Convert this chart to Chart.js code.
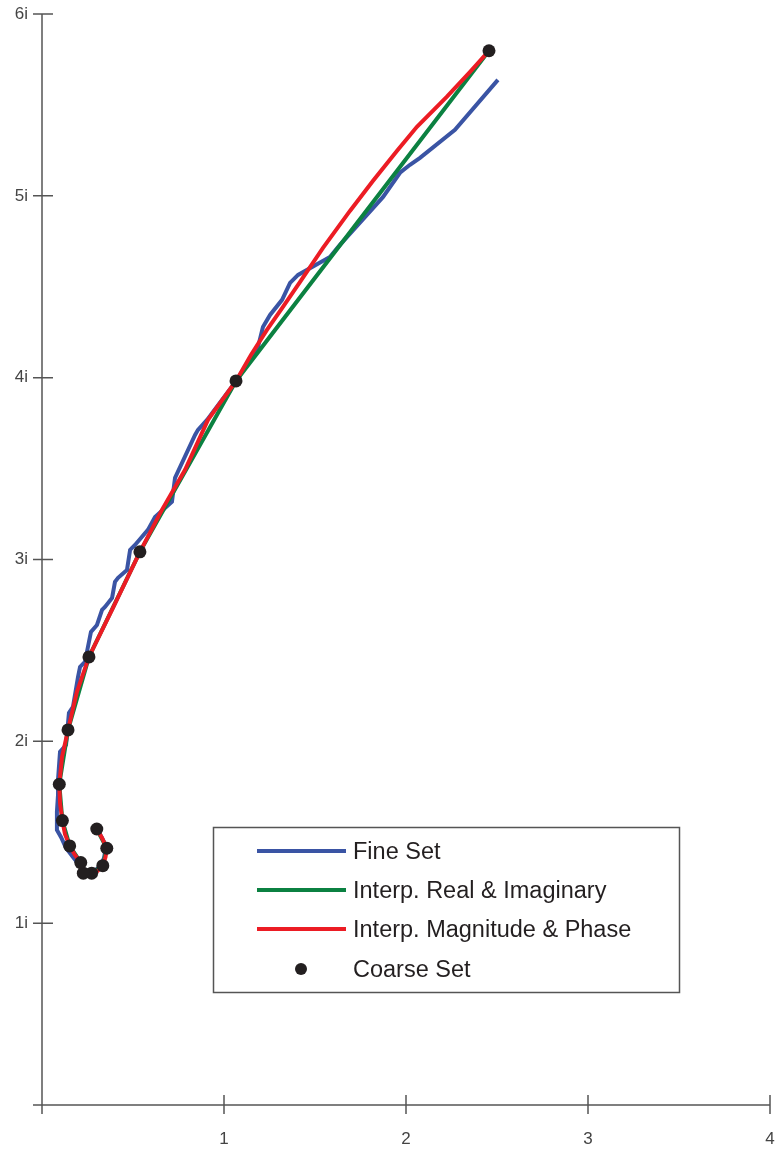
<!DOCTYPE html>
<html>
<head>
<meta charset="utf-8">
<script src="https://cdn.jsdelivr.net/npm/chart.js@4.4.1/dist/chart.umd.min.js"></script>
<style>
  html, body { margin: 0; padding: 0; background: #fff; }
  #wrap { width: 779px; height: 1149px; }
</style>
</head>
<body>
<div id="wrap"><canvas id="chart" width="779" height="1149"></canvas></div>
<script>
// Coarse set (real, imaginary)
const coarseRe = [0.301, 0.356, 0.334, 0.273, 0.227, 0.213, 0.152, 0.112, 0.095, 0.143, 0.258, 0.538, 1.066, 2.456];
const coarseIm = [1.518, 1.412, 1.316, 1.275, 1.275, 1.333, 1.425, 1.564, 1.764, 2.063, 2.464, 3.042, 3.982, 5.798];

// Fine set
const fineRe = [0.297, 0.324, 0.352, 0.341, 0.319, 0.275, 0.231, 0.209, 0.170, 0.132, 0.104, 0.082, 0.082, 0.088,
  0.088, 0.099, 0.132, 0.148, 0.170, 0.198, 0.209, 0.236, 0.269, 0.302, 0.330, 0.346, 0.385, 0.401, 0.418, 0.467,
  0.484, 0.511, 0.582, 0.621, 0.714, 0.731, 0.841, 0.857, 0.907, 1.071, 1.187, 1.214, 1.253, 1.319, 1.363, 1.407,
  1.582, 1.637, 1.874, 1.967, 2.022, 2.077, 2.269, 2.505];
const fineIm = [1.524, 1.480, 1.425, 1.359, 1.309, 1.282, 1.276, 1.315, 1.364, 1.414, 1.474, 1.513, 1.612, 1.705,
  1.788, 1.942, 1.980, 2.156, 2.189, 2.354, 2.409, 2.437, 2.602, 2.640, 2.723, 2.739, 2.789, 2.877, 2.899, 2.943,
  3.053, 3.080, 3.163, 3.234, 3.317, 3.449, 3.685, 3.713, 3.768, 3.988, 4.169, 4.279, 4.345, 4.428, 4.521, 4.565,
  4.664, 4.730, 4.994, 5.127, 5.171, 5.209, 5.363, 5.638];

// Interpolated in magnitude & phase
const magPhRe = [0.301, 0.330, 0.356, 0.349, 0.334, 0.305, 0.273, 0.250, 0.227, 0.217, 0.213, 0.181, 0.152, 0.126,
  0.112, 0.099, 0.095, 0.110, 0.143, 0.192, 0.258, 0.390, 0.538, 0.659, 0.786, 0.912, 1.066, 1.148, 1.236, 1.324,
  1.418, 1.544, 1.692, 1.819, 1.951, 2.060, 2.225, 2.352, 2.456];
const magPhIm = [1.518, 1.469, 1.412, 1.364, 1.316, 1.287, 1.275, 1.271, 1.275, 1.304, 1.333, 1.375, 1.425, 1.491,
  1.564, 1.661, 1.764, 1.914, 2.063, 2.272, 2.464, 2.734, 3.042, 3.273, 3.493, 3.768, 3.982, 4.125, 4.263, 4.389,
  4.527, 4.714, 4.917, 5.083, 5.248, 5.380, 5.545, 5.682, 5.798];

// Interpolated in real & imaginary: straight segments through the coarse points
const reImRe = coarseRe;
const reImIm = coarseIm;

const xTicks = [0, 1, 2, 3, 4];
const yTicks = [0, 1, 2, 3, 4, 5, 6];

const seriesNames = ['Fine Set', 'Interp. Real & Imaginary', 'Interp. Magnitude & Phase', 'Coarse Set'];
const seriesColors = ['#3a54a4', '#0b8141', '#ec1c24', '#231f20'];

const toPoints = (xs, ys) => xs.map((x, i) => ({ x: x, y: ys[i] }));

const axisColor = '#555555';
const tickFont = { family: '"Liberation Sans Narrow", "Liberation Sans", Arial, sans-serif', size: 17 };

const axesPlugin = {
    id: 'crossAxes',
    beforeDatasetsDraw(chart) {
        const ctx = chart.ctx;
        const xs = chart.scales.x;
        const ys = chart.scales.y;
        const x0 = xs.getPixelForValue(0);
        const y0 = ys.getPixelForValue(0);
        ctx.save();
        ctx.strokeStyle = axisColor;
        ctx.lineWidth = 1.5;
        ctx.beginPath();
        ctx.moveTo(x0 - 9, y0);
        ctx.lineTo(xs.getPixelForValue(4), y0);
        ctx.moveTo(x0, ys.getPixelForValue(6));
        ctx.lineTo(x0, y0 + 9);
        xTicks.forEach(v => {
            if (v === 0) return;
            const px = xs.getPixelForValue(v);
            ctx.moveTo(px, y0 - 10);
            ctx.lineTo(px, y0 + 9);
        });
        yTicks.forEach(v => {
            if (v === 0) return;
            const py = ys.getPixelForValue(v);
            ctx.moveTo(x0 - 9, py);
            ctx.lineTo(x0 + 11, py);
        });
        ctx.stroke();
        ctx.restore();
    }
};

const legendPlugin = {
    id: 'boxLegend',
    afterDraw(chart) {
        const ctx = chart.ctx;
        const left = 213.5, top = 827.5, w = 466, h = 165;
        const rows = [851, 890, 929, 969];
        ctx.save();
        ctx.fillStyle = '#ffffff';
        ctx.fillRect(left, top, w, h);
        ctx.strokeStyle = axisColor;
        ctx.lineWidth = 1.5;
        ctx.strokeRect(left, top, w, h);
        ctx.font = '23.5px "Liberation Sans", Arial, sans-serif';
        ctx.textBaseline = 'middle';
        seriesNames.forEach((name, i) => {
            const y = rows[i];
            if (i < 3) {
                ctx.strokeStyle = seriesColors[i];
                ctx.lineWidth = 4;
                ctx.beginPath();
                ctx.moveTo(257, y);
                ctx.lineTo(346, y);
                ctx.stroke();
            } else {
                ctx.fillStyle = seriesColors[i];
                ctx.beginPath();
                ctx.arc(301, y, 6, 0, Math.PI * 2);
                ctx.fill();
            }
            ctx.fillStyle = '#231f20';
            ctx.fillText(name, 353, y + 2);
        });
        ctx.restore();
    }
};

const ctx = document.getElementById('chart').getContext('2d');
new Chart(ctx, {
    type: 'scatter',
    data: {
        datasets: [{
            label: seriesNames[0],
            data: toPoints(fineRe, fineIm),
            showLine: true,
            borderColor: seriesColors[0],
            borderWidth: 4,
            pointRadius: 0,
            order: 4
        }, {
            label: seriesNames[1],
            data: toPoints(reImRe, reImIm),
            showLine: true,
            borderColor: seriesColors[1],
            borderWidth: 4,
            pointRadius: 0,
            order: 3
        }, {
            label: seriesNames[2],
            data: toPoints(magPhRe, magPhIm),
            showLine: true,
            borderColor: seriesColors[2],
            borderWidth: 4,
            pointRadius: 0,
            order: 2
        }, {
            label: seriesNames[3],
            data: toPoints(coarseRe, coarseIm),
            showLine: false,
            backgroundColor: seriesColors[3],
            borderColor: seriesColors[3],
            borderWidth: 0,
            pointRadius: 6.5,
            order: 1
        }]
    },
    options: {
        responsive: false,
        animation: false,
        layout: {
            padding: { top: 14, right: 9, left: 0, bottom: 0 }
        },
        plugins: {
            legend: { display: false },
            tooltip: { enabled: false }
        },
        scales: {
            x: {
                type: 'linear',
                min: 0,
                max: 4,
                afterFit: s => { s.height = 44; s.paddingLeft = 0; s.paddingRight = 0; },
                afterBuildTicks: s => { s.ticks = xTicks.map(v => ({ value: v })); },
                ticks: {
                    callback: v => (v === 0 ? '' : String(v)),
                    color: '#444',
                    font: tickFont,
                    padding: 24,
                    maxRotation: 0
                },
                grid: { display: false, drawTicks: false },
                border: { display: false }
            },
            y: {
                type: 'linear',
                min: 0,
                max: 6,
                afterFit: s => { s.width = 42; s.paddingTop = 0; s.paddingBottom = 0; },
                afterBuildTicks: s => { s.ticks = yTicks.map(v => ({ value: v })); },
                ticks: {
                    callback: v => (v === 0 ? '' : v + 'i'),
                    color: '#444',
                    font: tickFont,
                    padding: 14
                },
                grid: { display: false, drawTicks: false },
                border: { display: false }
            }
        }
    },
    plugins: [axesPlugin, legendPlugin]
});
</script>
</body>
</html>
